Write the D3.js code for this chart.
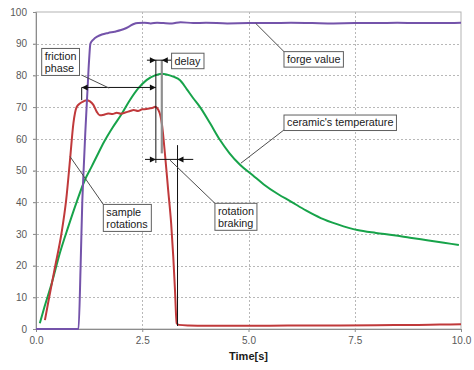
<!DOCTYPE html>
<html>
<head>
<meta charset="utf-8">
<script src="https://cdn.jsdelivr.net/npm/d3@7"></script>
<style>
  html, body { margin: 0; padding: 0; background: #fff; }
  svg { display: block; }
</style>
</head>
<body>
<svg id="chart" width="474" height="370"></svg>
<script>
// ---------------- data ----------------
const xTicks = [0, 2.5, 5, 7.5, 10];
const yTicks = [0, 10, 20, 30, 40, 50, 60, 70, 80, 90, 100];
const xLabel = "Time[s]";

// forge value (purple)
const forgeT = [0, 0.5, 1.0, 1.05, 1.09, 1.11, 1.16, 1.21, 1.25, 1.28, 1.35, 1.45, 1.55, 1.7, 1.85, 2.0, 2.1, 2.2, 2.3, 2.4, 2.55, 2.7, 2.85, 3.0, 3.2, 3.4, 3.7, 4.0, 4.5, 5.0, 5.5, 6.0, 6.5, 7.0, 7.5, 8.0, 8.5, 9.0, 9.5, 10.0];
const forgeV = [0, 0, 0, 20, 40.5, 47, 62, 75, 85, 90, 91.3, 92.3, 92.9, 93.4, 93.8, 94.3, 94.8, 95.5, 96.2, 96.5, 96.6, 96.4, 96.6, 96.5, 96.4, 96.8, 96.5, 96.6, 96.4, 96.5, 96.5, 96.6, 96.5, 96.4, 96.5, 96.5, 96.6, 96.5, 96.5, 96.6];

// ceramic's temperature (green)
const tempT = [0.09, 0.2, 0.37, 0.56, 0.76, 0.96, 1.15, 1.3, 1.43, 1.6, 1.8, 2.0, 2.2, 2.4, 2.6, 2.8, 2.96, 3.07, 3.23, 3.39, 3.55, 3.7, 3.86, 4.1, 4.33, 4.55, 4.8, 5.1, 5.36, 5.7, 6.0, 6.35, 6.7, 7.1, 7.56, 8.0, 8.42, 8.8, 9.2, 9.6, 9.95];
const tempV = [1.8, 7, 14.4, 23.9, 32.3, 40.2, 47, 51, 54.5, 59, 63.5, 67.5, 72, 75.8, 78.5, 80, 80.5, 80.3, 79.6, 78.5, 75.6, 72.8, 70, 64.8, 59.6, 55.5, 51.8, 48.5, 45.6, 42.5, 40.2, 37.4, 35, 33, 31.2, 30.3, 29.6, 28.8, 28, 27.2, 26.5];

// sample rotations (red)
const rotT = [0.21, 0.31, 0.45, 0.6, 0.71, 0.8, 0.88, 0.96, 1.04, 1.12, 1.19, 1.27, 1.35, 1.43, 1.5, 1.6, 1.7, 1.8, 1.9, 2.0, 2.1, 2.2, 2.3, 2.4, 2.5, 2.6, 2.68, 2.75, 2.8, 2.88, 2.96, 3.04, 3.11, 3.18, 3.23, 3.27, 3.31, 3.36, 3.6, 4.0, 5.0, 6.0, 7.0, 8.0, 9.0, 9.5, 10.0];
const rotV = [2.8, 10, 19.7, 30.2, 40.7, 53.3, 64.9, 70.1, 71.2, 71.8, 72.2, 71.8, 70.7, 68.5, 67.4, 67.6, 68, 67.8, 68.2, 67.9, 68.3, 68.7, 69.1, 68.8, 69.3, 69.4, 69.6, 69.8, 70.1, 69.1, 64.9, 54.4, 43.8, 33.3, 22.8, 12.3, 1.8, 1.3, 1.1, 1.0, 1.0, 1.1, 1.1, 1.2, 1.3, 1.4, 1.5];

const seriesNames = ["forge value", "ceramic's temperature", "sample rotations"];
const seriesColors = ["#7453aa", "#17a34a", "#c0393b"];

// ---------------- layout ----------------
const svg = d3.select("#chart");
const x = d3.scaleLinear().domain([0, 10]).range([36, 461]);
const y = d3.scaleLinear().domain([0, 100]).range([329, 12]);
const labelFont = "'Liberation Sans', Arial, sans-serif";
const tickFont = "'Liberation Sans', Arial, sans-serif";

// plot frame
svg.append("rect")
  .attr("x", x(0)).attr("y", y(100))
  .attr("width", x(10) - x(0)).attr("height", y(0) - y(100))
  .attr("fill", "#fff").attr("stroke", "#b3b3b3").attr("stroke-width", 1);

// grid
const grid = svg.append("g");
grid.selectAll("line.h").data(yTicks.filter(d => d > 0 && d < 100)).join("line")
  .attr("x1", x(0) - 3).attr("x2", x(10))
  .attr("y1", d => Math.round(y(d)) + 0.5).attr("y2", d => Math.round(y(d)) + 0.5)
  .attr("stroke", "#b8b8b8").attr("stroke-dasharray", "2,2");
grid.selectAll("line.v").data(xTicks.filter(d => d > 0 && d < 10)).join("line")
  .attr("y1", y(100)).attr("y2", y(0))
  .attr("x1", d => Math.round(x(d)) + 0.5).attr("x2", d => Math.round(x(d)) + 0.5)
  .attr("stroke", "#b8b8b8").attr("stroke-dasharray", "2,2");

// axes
const yAxis = svg.append("g").attr("transform", `translate(${x(0)},0)`)
  .call(d3.axisLeft(y).tickValues(yTicks).tickSize(3).tickPadding(6));
const xAxis = svg.append("g").attr("transform", `translate(0,${y(0)})`)
  .call(d3.axisBottom(x).tickValues(xTicks).tickFormat(d3.format(".1f")).tickSize(3).tickPadding(5));
[xAxis, yAxis].forEach(a => {
  a.select(".domain").attr("stroke", "#8c8c8c");
  a.selectAll(".tick line").attr("stroke", "#8c8c8c");
  a.selectAll(".tick text").attr("fill", "#595959").style("font-family", tickFont).style("font-size", "10px");
});

svg.append("text")
  .attr("x", x(5)).attr("y", 360)
  .attr("text-anchor", "middle")
  .style("font-family", labelFont).style("font-size", "11px").style("font-weight", "bold")
  .attr("fill", "#1a1a1a")
  .text(xLabel);

// series
const line = d3.line().x(d => x(d[0])).y(d => y(d[1])).curve(d3.curveMonotoneX);
const seriesData = [
  d3.zip(forgeT, forgeV),
  d3.zip(tempT, tempV),
  d3.zip(rotT, rotV)
];
const order = [1, 2, 0];
order.forEach(i => {
  svg.append("path").datum(seriesData[i])
    .attr("fill", "none").attr("stroke", seriesColors[i])
    .attr("stroke-width", 2).attr("stroke-linejoin", "round")
    .attr("d", line);
});

// ---------------- annotations (in data units) ----------------
const ann = svg.append("g");
function seg(t1, v1, t2, v2, color, w) {
  ann.append("line")
    .attr("x1", x(t1)).attr("y1", y(v1)).attr("x2", x(t2)).attr("y2", y(v2))
    .attr("stroke", color || "#111").attr("stroke-width", w || 1);
}
function head(t, v, dir) { // dir: 1 -> pointing right, -1 -> pointing left
  const px = x(t), py = y(v);
  ann.append("path")
    .attr("d", `M${px},${py} L${px - dir * 6},${py - 3} L${px - dir * 6},${py + 3} Z`)
    .attr("fill", "#111");
}
// friction phase span
const tFricStart = 1.075, tFricEnd = 2.82, tPeak = 2.96, tBrakeEnd = 3.33;
seg(tFricStart, 76.2, tFricEnd, 76.2);
head(tFricStart, 76.2, -1);
head(tFricEnd, 76.2, 1);
seg(tFricStart, 76.2, tFricStart, 72.2);
seg(tFricEnd, 84.9, tFricEnd, 52.4);
seg(tPeak, 84.9, tPeak, 55.4, "#8f8f8f", 2.2);
// delay
seg(2.61, 84.8, 3.19, 84.8);
head(tFricEnd, 84.8, 1);
head(tPeak, 84.8, -1);
// braking
seg(2.565, 53.5, 3.70, 53.5);
head(tFricEnd, 53.5, 1);
head(tBrakeEnd, 53.5, -1);
seg(tBrakeEnd, 58, tBrakeEnd, 0.95);

// leader lines
const leaderColor = "#4d4d4d";
seg(1.075, 80.1, 1.72, 76.0, leaderColor);
seg(5.835, 87.5, 5.17, 96.4, leaderColor);
seg(5.835, 62.8, 4.82, 52.3, leaderColor);
seg(1.584, 39.3, 0.80, 54.4, leaderColor);
seg(4.21, 39.65, 3.15, 53.3, leaderColor);

// labelled boxes
const boxes = [
  { lines: ["friction", "phase"], t: 0.134, v: 88.5 },
  { lines: ["delay"], t: 3.19, v: 87.0 },
  { lines: ["forge value"], t: 5.835, v: 87.5 },
  { lines: ["ceramic's temperature"], t: 5.835, v: 67.5 },
  { lines: ["sample", "rotations"], t: 1.584, v: 39.3 },
  { lines: ["rotation", "braking"], t: 4.21, v: 39.65 }
];
boxes.forEach(b => {
  const g = ann.append("g").attr("transform", `translate(${x(b.t)},${y(b.v)})`);
  const rect = g.append("rect").attr("fill", "#fff").attr("stroke", "#5f5f5f").attr("stroke-width", 1);
  const txt = g.append("text")
    .style("font-family", labelFont).style("font-size", "10.8px").attr("fill", "#1a1a1a");
  b.lines.forEach((l, i) => {
    txt.append("tspan").attr("x", 3).attr("y", 11.3 + i * 12.6).text(l);
  });
  const bb = txt.node().getBBox();
  rect.attr("x", 0).attr("y", 0)
    .attr("width", bb.width + 6)
    .attr("height", b.lines.length === 1 ? 15.5 : 27);
});
</script>
</body>
</html>
